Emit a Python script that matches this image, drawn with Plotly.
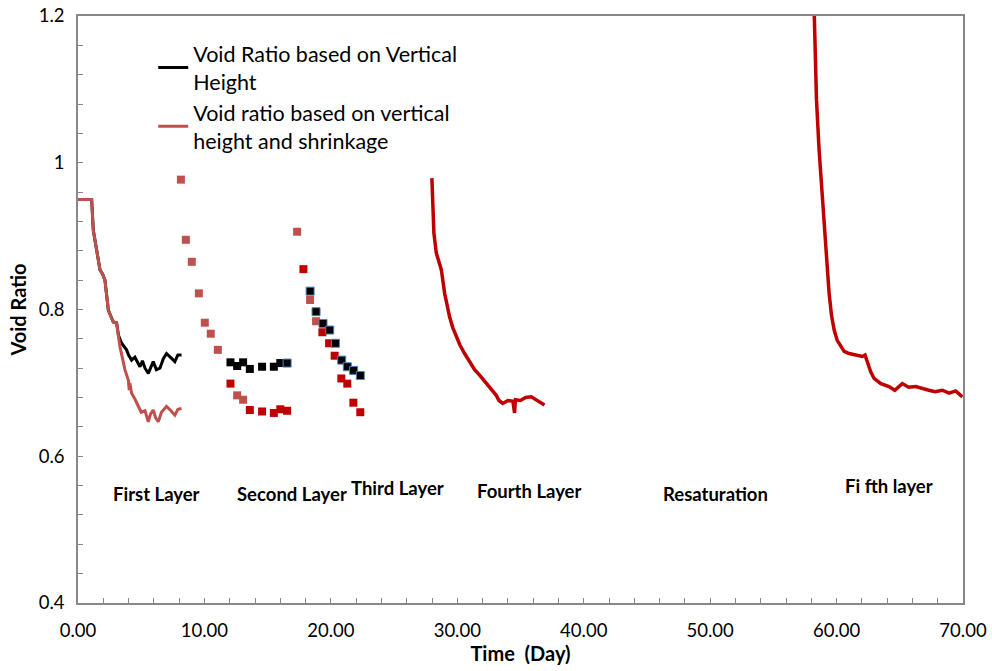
import plotly.graph_objects as go

# ---- First layer (continuous lines) ----
l1_x = [0.0, 1.08, 1.21, 1.5, 1.74, 1.95, 2.13, 2.4, 2.6, 2.79, 3.05]
l1_y = [0.95, 0.95, 0.908, 0.875, 0.854, 0.848, 0.840, 0.799, 0.79, 0.783, 0.782]

black1_x = l1_x + [3.2, 3.45, 3.6, 3.84, 4.0, 4.24, 4.5, 4.9, 5.1, 5.3, 5.56, 5.75, 5.95, 6.2, 6.48, 6.75, 7.0, 7.3, 7.66, 7.9, 8.19]
black1_y = l1_y + [0.765, 0.754, 0.75, 0.745, 0.738, 0.731, 0.735, 0.722, 0.73, 0.72, 0.713, 0.722, 0.729, 0.718, 0.720, 0.733, 0.740, 0.735, 0.729, 0.738, 0.738]

red1_x = l1_x + [3.32, 3.5, 3.71, 3.98, 4.05, 4.1, 4.24, 4.5, 4.77, 5.0, 5.3, 5.56, 5.75, 5.95, 6.15, 6.35, 6.6, 7.0, 7.3, 7.66, 7.9, 8.19]
red1_y = l1_y + [0.749, 0.735, 0.718, 0.704, 0.69, 0.70, 0.686, 0.678, 0.668, 0.660, 0.662, 0.647, 0.658, 0.663, 0.652, 0.647, 0.660, 0.668, 0.663, 0.656, 0.664, 0.665]

# ---- Markers ----
light_x = [8.14, 8.53, 9.0, 9.56, 10.03, 10.5, 11.06, 12.59, 13.06, 17.33, 18.36, 18.83]
light_y = [0.977, 0.895, 0.865, 0.822, 0.782, 0.767, 0.745, 0.683, 0.677, 0.906, 0.813, 0.784]

dark_x = [12.06, 13.59, 14.56, 15.49, 16.0, 16.54, 17.83, 19.33, 19.86, 20.3, 20.83, 21.3, 21.78, 22.33]
dark_y = [0.699, 0.663, 0.661, 0.659, 0.664, 0.662, 0.855, 0.769, 0.754, 0.737, 0.706, 0.699, 0.673, 0.660]

blk_x = [12.06, 12.59, 13.06, 13.59, 14.56, 15.49, 16.0]
blk_y = [0.728, 0.723, 0.728, 0.719, 0.722, 0.722, 0.727]

blkb_x = [16.54, 18.36, 18.83, 19.38, 19.91, 20.36, 20.86, 21.3, 21.8, 22.33]
blkb_y = [0.727, 0.825, 0.797, 0.781, 0.772, 0.754, 0.731, 0.722, 0.717, 0.710]

# ---- Fourth layer ----
l4_x = [27.99, 28.07, 28.15, 28.34, 28.55, 28.74, 29.0, 29.2, 29.39, 29.65, 29.92, 30.2, 30.58, 31.0, 31.37, 31.8, 32.29, 32.7, 33.08, 33.3, 33.6, 34.0, 34.4, 34.53, 34.6, 35.0, 35.4, 35.85, 36.3, 36.6, 36.9]
l4_y = [0.979, 0.949, 0.904, 0.877, 0.866, 0.854, 0.822, 0.805, 0.790, 0.775, 0.763, 0.752, 0.740, 0.728, 0.718, 0.710, 0.699, 0.690, 0.683, 0.676, 0.672, 0.676, 0.675, 0.659, 0.677, 0.676, 0.680, 0.681, 0.676, 0.674, 0.670]

# ---- Fifth layer ----
l5_x = [58.15, 58.23, 58.31, 58.41, 58.62, 58.89, 59.15, 59.41, 59.6, 59.81, 60.05, 60.34, 60.6, 60.99, 61.5, 62.04, 62.25, 62.44, 62.7, 62.97, 63.5, 64.15, 64.6, 65.2, 65.7, 66.26, 66.8, 67.3, 67.8, 68.37, 68.9, 69.42, 69.95]
l5_y = [1.26, 1.199, 1.154, 1.086, 1.017, 0.949, 0.881, 0.822, 0.792, 0.772, 0.758, 0.749, 0.743, 0.740, 0.738, 0.736, 0.738, 0.727, 0.715, 0.706, 0.699, 0.695, 0.690, 0.699, 0.694, 0.695, 0.692, 0.690, 0.688, 0.690, 0.686, 0.689, 0.681]

# ---- Labels ----
layer_names = ["First Layer", "Second Layer", "Third Layer", "Fourth Layer", "Resaturation", "Fi fth layer"]
layer_x = [6.24, 16.9, 25.3, 35.7, 50.4, 64.15]
layer_y = [0.549, 0.549, 0.557, 0.553, 0.549, 0.559]

x_ticks = [0, 10, 20, 30, 40, 50, 60, 70]

FONT = "Lato"
BLACK = "#000000"
LIGHT = "#C0504D"
DARK = "#C00000"

fig = go.Figure()
fig.add_trace(go.Scatter(x=black1_x, y=black1_y, mode="lines", line=dict(color=BLACK, width=3),
                         name="Void Ratio based on Vertical<br>Height"))
fig.add_trace(go.Scatter(x=red1_x, y=red1_y, mode="lines", line=dict(color=LIGHT, width=3),
                         name="Void ratio based on vertical<br>height and shrinkage"))
fig.add_trace(go.Scatter(x=light_x, y=light_y, mode="markers", showlegend=False,
                         marker=dict(symbol="square", size=8, color=LIGHT)))
fig.add_trace(go.Scatter(x=dark_x, y=dark_y, mode="markers", showlegend=False,
                         marker=dict(symbol="square", size=8, color=DARK)))
fig.add_trace(go.Scatter(x=blk_x, y=blk_y, mode="markers", showlegend=False,
                         marker=dict(symbol="square", size=8, color=BLACK)))
fig.add_trace(go.Scatter(x=blkb_x, y=blkb_y, mode="markers", showlegend=False,
                         marker=dict(symbol="square", size=8, color=BLACK,
                                     line=dict(color="#4F81BD", width=1))))
fig.add_trace(go.Scatter(x=l4_x, y=l4_y, mode="lines", showlegend=False,
                         line=dict(color=DARK, width=3.5)))
fig.add_trace(go.Scatter(x=l5_x, y=l5_y, mode="lines", showlegend=False,
                         line=dict(color=DARK, width=3.5)))

for t, x, y in zip(layer_names, layer_x, layer_y):
    fig.add_annotation(x=x, y=y, text="<b>%s</b>" % t, showarrow=False,
                       font=dict(family=FONT, size=18.5, color="#000"))

fig.update_layout(
    width=992, height=671,
    margin=dict(l=78, r=29, t=16, b=68),
    paper_bgcolor="white", plot_bgcolor="white",
    font=dict(family=FONT, size=18.5, color="#000"),
    legend=dict(x=0.085, y=0.971, xanchor="left", yanchor="top",
                bgcolor="rgba(0,0,0,0)", font=dict(family=FONT, size=21.5),
                itemwidth=30, tracegroupgap=0),
)
fig.update_xaxes(range=[0, 70], tickvals=x_ticks, tickformat=".2f", automargin=False,
                 showline=True, linecolor="#888888", linewidth=1.5, mirror=True,
                 ticks="inside", ticklen=5, tickcolor="#888888", ticklabelstandoff=10,
                 minor=dict(dtick=2, ticks="inside", ticklen=5, tickcolor="#888888"),
                 showgrid=False, zeroline=False,
                 title=dict(text="<b>Time  (Day)</b>", font=dict(family=FONT, size=20), standoff=7))
fig.update_yaxes(range=[0.4, 1.2], dtick=0.2, automargin=False,
                 showline=True, linecolor="#888888", linewidth=1.5, mirror=True,
                 ticks="inside", ticklen=5, tickcolor="#888888", ticklabelstandoff=8,
                 minor=dict(dtick=0.04, ticks="inside", ticklen=5, tickcolor="#888888"),
                 showgrid=False, zeroline=False,
                 title=dict(text="<b>Void Ratio</b>", font=dict(family=FONT, size=20), standoff=7))

fig.write_html("out.html")
